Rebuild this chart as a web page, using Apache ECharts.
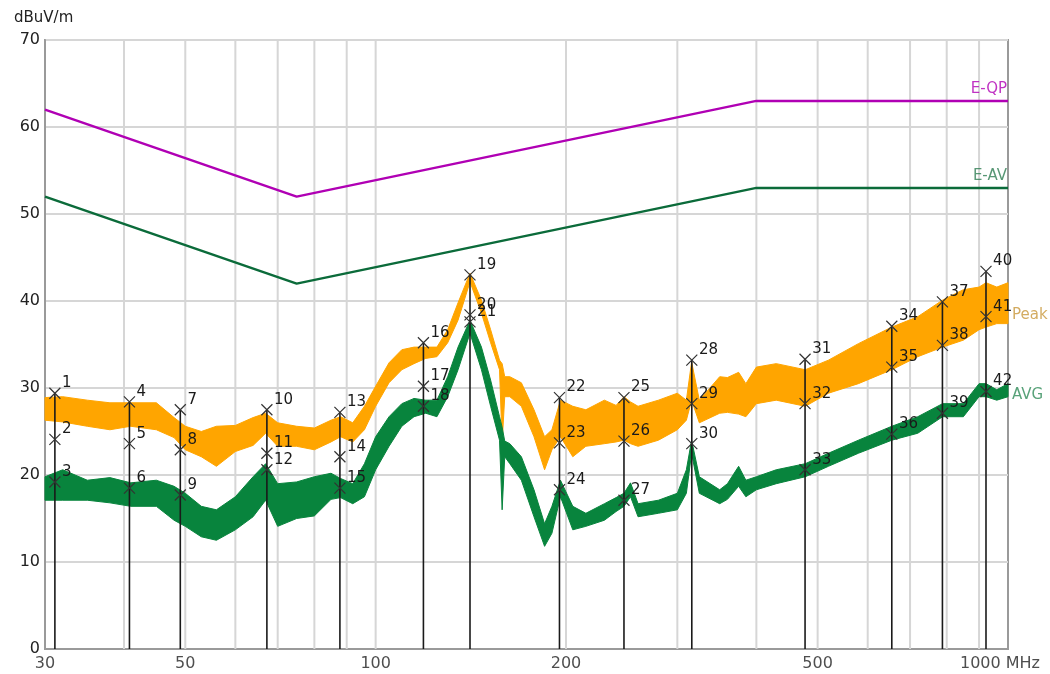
<!DOCTYPE html>
<html><head><meta charset="utf-8">
<script src="https://cdn.jsdelivr.net/npm/echarts@6/dist/echarts.min.js"></script>
<style>html,body{margin:0;padding:0;background:#fff}#c{width:1050px;height:674px}</style>
</head><body><div id="c"></div><script>
// ---- data (MHz, dBuV/m) ----
const traceFreq = [30,32,35,38,41,45,48,50,53,56,60,64,67,70,75,80,85,88,92,96,100,105,110,115,120,125,130,135,141,147,152,157,158.5,160,163,170,178,185,190,196,205,215,230,240,247,253,260,280,300,310,316,325,350,360,375,385,400,430,478,520,580,655,720,788,850,900,923,960,1000];
const peakHi = [28.9,29.0,28.6,28.3,28.3,28.3,26.6,25.6,25.0,25.6,25.7,26.6,27.1,26.0,25.6,25.4,26.3,26.7,26.0,27.9,30.2,32.9,34.4,34.7,34.7,34.7,36.7,39.8,43.2,40.1,36.7,33.2,32.8,31.3,31.3,30.6,27.5,24.4,25.2,28.6,27.9,27.5,28.6,28.0,29.0,28.4,27.9,28.6,29.4,28.6,33.0,28.6,31.3,31.2,31.8,30.5,32.4,32.8,32.1,33.2,35.1,37.0,38.2,40.1,41.3,41.6,42.1,41.6,42.1];
const peakLo = [26.3,26.1,25.6,25.2,25.6,25.2,24.3,22.9,22.1,21.0,22.7,23.4,24.8,23.3,23.3,22.9,23.8,24.4,23.8,25.2,27.9,30.6,32.1,32.8,33.4,33.6,35.2,37.8,42.2,38.6,35.2,32.1,23.7,29.0,29.0,27.9,24.4,20.6,22.9,24.4,22.1,23.3,23.6,23.8,24.0,23.6,23.3,24.0,25.2,26.3,28.6,26.0,27.1,27.2,27.0,26.7,28.2,28.6,27.9,29.4,30.5,32.1,33.6,34.7,35.5,36.7,37.0,37.4,37.4];
const avgHi = [19.8,20.6,19.4,19.7,19.1,19.4,18.7,17.9,16.4,16.0,17.5,19.8,21.3,19.0,19.2,19.8,20.2,19.6,19.0,21.3,24.4,26.7,28.2,28.8,28.6,28.6,31.3,34.7,37.8,34.7,30.9,26.7,25.5,23.9,23.6,22.1,18.3,14.4,16.4,19.4,16.4,15.6,16.7,17.4,17.9,19.1,16.7,17.1,17.9,20.6,24.0,19.8,18.3,19.0,21.0,19.4,19.8,20.6,21.3,22.5,24.0,25.6,26.7,28.2,28.2,30.5,30.5,29.8,30.5];
const avgLo = [17.1,17.1,17.1,16.8,16.4,16.4,14.8,14.1,12.9,12.5,13.7,15.2,17.1,14.1,15.0,15.3,17.2,17.4,16.7,17.5,20.6,23.3,25.6,26.7,27.1,26.7,29.0,32.1,36.3,32.1,27.9,24.0,16.0,22.1,21.3,19.4,15.2,11.8,13.3,17.5,13.7,14.1,14.8,15.8,16.4,17.5,15.2,15.6,16.0,17.9,22.5,17.9,16.7,17.2,18.7,17.5,18.3,19.0,19.8,21.0,22.5,24.0,24.8,26.7,26.7,29.0,29.0,28.6,29.0];

const limitFreq = [30, 75, 400, 1000];
const limitQP = [62, 52, 63, 63];
const limitAV = [52, 42, 53, 53];
const limitText = ['E-QP', 'E-AV'];

const markerFreq = [31.1,40.8,49.1,67.3,87.8,119.0,141.0,195.3,247,316.2,477.6,655,787.6,923];
const markerPeak = [29.4,28.4,27.5,27.5,27.2,35.2,43.0,28.9,28.9,33.2,33.3,37.1,39.9,43.4];
const markerQP   = [24.1,23.6,22.9,22.5,22.1,30.2,38.4,23.7,23.9,28.2,28.2,32.4,34.9,38.2];
const markerAV   = [19.2,18.5,17.7,20.6,18.5,27.9,37.6,18.3,17.1,23.6,20.6,24.7,27.1,29.6];

const gridFreq = [40,50,60,70,80,90,100,200,300,400,500,600,700,800,900];
const xTickFreq = [30,50,100,200,500,1000];
const xTickText = ['30','50','100','200','500','1000 MHz'];
const traceLabelText = ['Peak','AVG'];
const traceLabelVal = [38.4, 29.2];

const FONT = 'DejaVu Sans, Verdana, sans-serif';
const QP_COLOR = '#b000b4', AV_COLOR = '#0b6b3a';

function band(name, hi, lo, color){
  return {
    type:'custom', name, silent:true, z:3,
    data: traceFreq.map((f,i)=>[f, hi[i], lo[i]]),
    encode:{x:0, y:[1,2]},
    renderItem:function(params, api){
      if(params.dataIndexInside !== 0) return null;
      const pts = [];
      for(let j=0;j<traceFreq.length;j++) pts.push(api.coord([traceFreq[j], hi[j]]));
      for(let j=traceFreq.length-1;j>=0;j--) pts.push(api.coord([traceFreq[j], lo[j]]));
      return {type:'polygon', shape:{points:pts}, style:{fill:color, stroke:color, lineWidth:1}};
    }
  };
}

function limitLine(name, vals, color){
  return {
    type:'line', name, z:4, symbol:'none', silent:true,
    lineStyle:{color, width:2.5},
    data: limitFreq.map((f,i)=>[f, vals[i]])
  };
}

const markerData = [];
markerFreq.forEach((f,i)=>{
  markerData.push([f, markerPeak[i], String(3*i+1)]);
  markerData.push([f, markerQP[i], String(3*i+2)]);
  markerData.push([f, markerAV[i], String(3*i+3)]);
});

const lastF = limitFreq[limitFreq.length-1];

const option = {
  animation:false,
  backgroundColor:'#fff',
  title:{text:'dBuV/m', left:9, top:6, textStyle:{fontSize:15, fontWeight:'normal', color:'#222', fontFamily:FONT}},
  grid:{left:45, right:42, top:40, bottom:25, show:true, borderColor:'#9a9a9a', borderWidth:2, backgroundColor:'#fff'},
  xAxis:{type:'log', min:30, max:1000, logBase:10,
    axisLine:{show:true, lineStyle:{color:'#9a9a9a', width:2}}, axisTick:{show:false},
    axisLabel:{show:false}, splitLine:{show:false}},
  yAxis:{type:'value', min:0, max:70, interval:10,
    axisLine:{show:true, lineStyle:{color:'#9a9a9a', width:2}}, axisTick:{show:false},
    axisLabel:{fontSize:16, color:'#222', fontFamily:FONT, margin:5},
    splitLine:{show:true, lineStyle:{color:'#d6d6d6', width:2}}},
  series:[
    {type:'custom', name:'grid', silent:true, z:1,
      data: gridFreq.map(f=>[f, 0]),
      encode:{x:0, y:1},
      renderItem:function(params, api){
        const cs = params.coordSys;
        const x = api.coord([api.value(0), 0])[0];
        return {type:'line', shape:{x1:x, y1:cs.y, x2:x, y2:cs.y+cs.height}, style:{stroke:'#d6d6d6', lineWidth:2}};
      }},
    limitLine('E-QP', limitQP, QP_COLOR),
    limitLine('E-AV', limitAV, AV_COLOR),
    {type:'scatter', name:'limitLabels', silent:true, z:6, symbolSize:0, clip:false,
      data: [
        {value:[lastF, limitQP[limitQP.length-1]], name:limitText[0], label:{color:QP_COLOR}},
        {value:[lastF, limitAV[limitAV.length-1]], name:limitText[1], label:{color:'#2e7d52'}}
      ],
      label:{show:true, position:'top', align:'right', distance:4, offset:[-1,0], formatter:p=>p.name, fontSize:15, fontFamily:FONT}},
    band('Peak', peakHi, peakLo, '#ffa500'),
    band('AVG', avgHi, avgLo, '#08843d'),
    {type:'custom', name:'markerLines', silent:true, z:5,
      data: markerFreq.map((f,i)=>[f, markerPeak[i]]),
      encode:{x:0, y:1},
      renderItem:function(params, api){
        const p0 = api.coord([api.value(0), 0]);
        const p1 = api.coord([api.value(0), api.value(1)]);
        return {type:'line', shape:{x1:p0[0], y1:p0[1], x2:p1[0], y2:p1[1]}, style:{stroke:'#1a1a1a', lineWidth:1.6}};
      }},
    {type:'scatter', name:'markers', silent:true, z:6,
      symbol:'path://M0,0L10,10M10,0L0,10', symbolSize:11,
      itemStyle:{color:'rgba(0,0,0,0)', borderColor:'#333', borderWidth:1.2, opacity:1},
      label:{show:true, position:'right', distance:0, offset:[1,-10], formatter:p=>p.data[2],
        fontSize:15, color:'#1a1a1a', fontFamily:FONT},
      data: markerData},
    {type:'scatter', name:'traceLabels', silent:true, z:6, symbolSize:0, clip:false,
      data: traceLabelText.map((t,i)=>({value:[1000, traceLabelVal[i]], name:t,
        label:{color: i===0 ? '#c8963a' : '#2e8b57'}})),
      label:{show:true, position:'right', distance:4, formatter:p=>p.name, fontSize:15, fontFamily:FONT}},
    {type:'scatter', name:'xTicks', silent:true, z:6, symbolSize:0, clip:false,
      data: xTickFreq.map((f,i)=>({value:[f,0], name:xTickText[i],
        label: i===xTickFreq.length-1 ? {offset:[-8,0]} : {}})),
      label:{show:true, position:'bottom', distance:7, formatter:p=>p.name, fontSize:16, color:'#222', fontFamily:FONT}}
  ]
};
const chart = echarts.init(document.getElementById('c'));
chart.setOption(option);
</script></body></html>
